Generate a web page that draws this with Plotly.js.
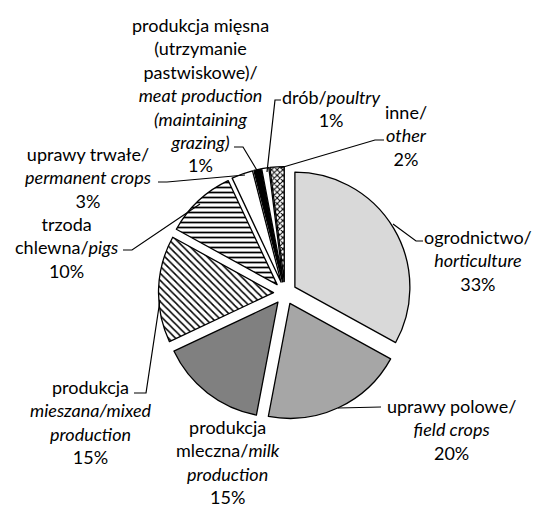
<!DOCTYPE html>
<html>
<head>
<meta charset="utf-8">
<script src="https://cdn.plot.ly/plotly-3.0.1.min.js"></script>
<style>html,body{margin:0;padding:0;background:#fff;}#chart{width:536px;height:508px;}</style>
</head>
<body>
<div id="chart"></div>
<script>
// ---- data ----
const categories = [
  "ogrodnictwo/horticulture",
  "uprawy polowe/field crops",
  "produkcja mleczna/milk production",
  "produkcja mieszana/mixed production",
  "trzoda chlewna/pigs",
  "uprawy trwałe/permanent crops",
  "produkcja mięsna (utrzymanie pastwiskowe)/meat production (maintaining grazing)",
  "drób/poultry",
  "inne/other"
];
const labelTexts = [
  "ogrodnictwo/<br><i>horticulture</i>",
  "uprawy polowe/<br><i>field crops</i>",
  "produkcja<br>mleczna/<i>milk</i><br><i>production</i>",
  "produkcja<br><i>mieszana/mixed</i><br><i>production</i>",
  "trzoda<br>chlewna/<i>pigs</i>",
  "uprawy trwałe/<br><i>permanent crops</i>",
  "produkcja mięsna<br>(utrzymanie<br>pastwiskowe)/<br><i>meat production</i><br><i>(maintaining</i><br><i>grazing)</i>",
  "drób/<i>poultry</i>",
  "inne/<br><i>other</i>"
];
const values = [33, 20, 15, 15, 10, 3, 1, 1, 2];

// ---- styles ----
const W = 536, H = 508;
const px = x => x / W;
const py = y => 1 - y / H;
const fills = ["#d9d9d9", "#a6a6a6", "#808080", "#ffffff", "#ffffff", "#ffffff", "#000000", "#ffffff", "#ffffff"];
const shapes = ["", "", "", "\\", "-", "", "", "", "x"];
const labelPos = [[478, 260], [451, 429], [228, 462], [91, 422], [66, 247], [88, 177], [200, 95], [331, 108], [406, 136]];
const leaders = [
  [[423, 241], [416, 241], [393, 224]],
  [[381, 407], [338, 408]],
  null,
  [[134, 393], [146, 393], [160, 300]],
  [[123, 250], [132, 250], [200, 204]],
  [[158, 182], [167, 182], [245, 175]],
  [[234, 147], [243, 147], [258, 172]],
  [[281, 100], [275, 100], [267, 172]],
  [[384, 140], [375, 140], [280, 168]]
];

const trace = {
  type: "pie",
  values: values,
  labels: categories,
  sort: false,
  direction: "clockwise",
  rotation: 0,
  pull: values.map(() => 0.1),
  textinfo: "none",
  hoverinfo: "label+percent",
  showlegend: false,
  domain: {x: [0.2957, 0.7677], y: [0.1742, 0.6722]},
  marker: {
    colors: fills,
    line: {color: "#000000", width: 1.3},
    pattern: {
      shape: shapes,
      fgcolor: "#000000",
      bgcolor: "#ffffff",
      size: [8, 8, 8, 5, 5, 8, 8, 8, 4],
      solidity: [0.3, 0.3, 0.3, 0.3, 0.35, 0.3, 0.3, 0.3, 0.45],
      fillmode: "replace"
    }
  }
};

const annotations = labelTexts.map((t, i) => ({
  xref: "paper", yref: "paper",
  x: px(labelPos[i][0]), y: py(labelPos[i][1]),
  xanchor: "center", yanchor: "middle",
  text: t + "<br>" + values[i] + "%",
  showarrow: false,
  align: "center",
  font: {family: "Lato, 'Open Sans', sans-serif", size: 18, color: "#000000"}
}));

const lineShapes = leaders.filter(l => l).map(pts => ({
  type: "path",
  xref: "paper", yref: "paper",
  path: pts.map((p, j) => (j ? "L" : "M") + px(p[0]) + "," + py(p[1])).join(" "),
  line: {color: "#000000", width: 1.2}
}));

const layout = {
  width: W, height: H,
  margin: {l: 0, r: 0, t: 0, b: 0},
  paper_bgcolor: "#ffffff",
  plot_bgcolor: "#ffffff",
  annotations: annotations,
  shapes: lineShapes,
  font: {family: "Lato, sans-serif"}
};

Plotly.newPlot("chart", [trace], layout, {displayModeBar: false, staticPlot: true});
</script>
</body>
</html>
